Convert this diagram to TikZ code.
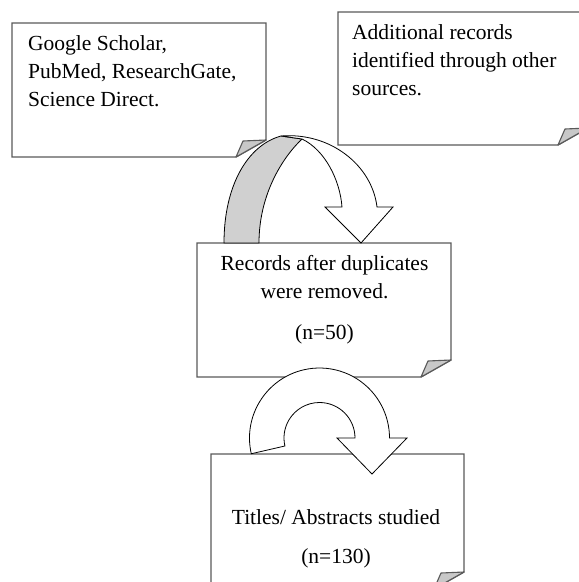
\documentclass[tikz,border=0pt]{standalone}
\usepackage{fontspec}
\setmainfont{Liberation Serif}
\definecolor{boxgray}{HTML}{5A5A5A}
\definecolor{foldgray}{HTML}{C8C8C8}
\definecolor{bandgray}{HTML}{D0D0D0}
\tikzset{
  boxline/.style={draw=boxgray, line width=1.4pt, line join=miter},
  foldline/.style={draw=boxgray, line width=1.1pt, fill=foldgray, line join=round},
  arrowline/.style={draw=black, line width=0.8pt, line join=miter},
  boxtext/.style={inner sep=0pt, font=\fontsize{21.5}{28}\selectfont},
}
\newcommand\foldedbox[4]{%
  \draw[boxline, fill=white] (#1,#2) -- (#3,#2) -- (#3,#4-17) -- (#3-30,#4) -- (#1,#4) -- cycle;
  \draw[foldline] (#3-30,#4) -- (#3-23,#4-16) -- (#3,#4-17) -- cycle;}
\begin{document}
\begin{tikzpicture}[x=1pt,y=-1pt]
\useasboundingbox (0,0) rectangle (579,582);
\clip (0,0) rectangle (579,582);
\fill[white] (0,0) rectangle (579,582);
% boxes
\foldedbox{12}{23}{266}{157}
\foldedbox{338}{12}{588}{145}
\foldedbox{197}{243}{451}{377}
\foldedbox{211}{454}{464}{589}
% texts
\node[boxtext, anchor=north west, align=left] (t1) at (28,35) {Google Scholar,\\PubMed, ResearchGate,\\Science Direct.};
\node[boxtext, anchor=north west, align=left] (t2) at (352,24) {Additional records\\identified through other\\sources.};
\node[boxtext, anchor=north, align=center] (t3) at (324.5,255) {Records after duplicates\\were removed.\\[13pt](n=50)};
\node[boxtext, anchor=north, align=center] (t4) at (336,509) {Titles/ Abstracts studied\\[11pt](n=130)};
% curved arrow 1 (top)
\draw[arrowline, fill=bandgray] (224,243) .. controls (224,185) and (248,145) .. (281,136)
  -- (302,139) .. controls (282,158) and (259,195) .. (259,243) -- cycle;
\draw[arrowline, fill=white] (281,136) .. controls (330,132) and (372,165) .. (377,207)
  -- (393,207) -- (361,243) -- (325,207) -- (342,207)
  .. controls (340,180) and (325,150) .. (302,139) -- cycle;
% curved arrow 2 (bottom)
\draw[arrowline, fill=white] (319.5,438) ++(167:70) arc[start angle=167, end angle=360, radius=70]
  -- (407,438) -- (372,474) -- (337,438) -- (355,438)
  arc[start angle=360, end angle=167, radius=35.5] -- cycle;
\end{tikzpicture}
\end{document}
